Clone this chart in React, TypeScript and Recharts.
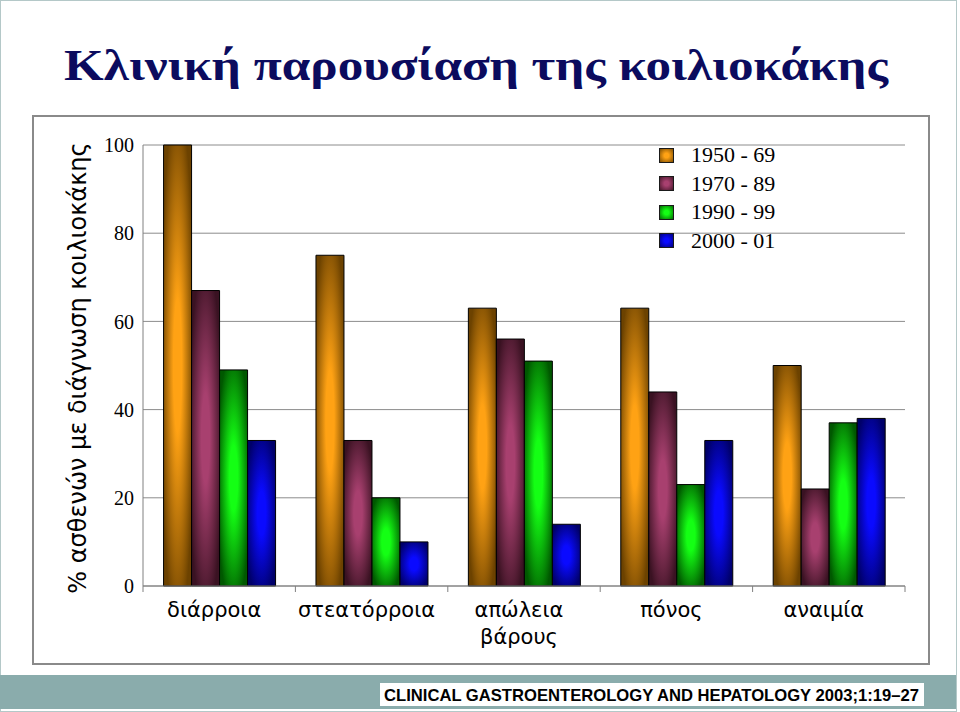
import React from 'react';
import { BarChart, Bar, XAxis, YAxis, CartesianGrid, Legend } from 'recharts';

const categories = ['διάρροια', 'στεατόρροια', 'απώλεια βάρους', 'πόνος', 'αναιμία'];
const period1950 = [100, 75, 63, 63, 50];
const period1970 = [67, 33, 56, 44, 22];
const period1990 = [49, 20, 51, 23, 37];
const period2000 = [33, 10, 14, 33, 38];
const seriesNames = ['1950 - 69', '1970 - 89', '1990 - 99', '2000 - 01'];
const yTicks = [0, 20, 40, 60, 80, 100];

const data = categories.map((name, i) => ({
  name,
  p1950: period1950[i],
  p1970: period1970[i],
  p1990: period1990[i],
  p2000: period2000[i],
}));

const SERIES = [
  { key: 'p1950', name: seriesNames[0], light: '#ffa214', dark: '#6c4200' },
  { key: 'p1970', name: seriesNames[1], light: '#a8406f', dark: '#3a1222' },
  { key: 'p1990', name: seriesNames[2], light: '#14ff14', dark: '#005800' },
  { key: 'p2000', name: seriesNames[3], light: '#0a0aff', dark: '#00006a' },
];

const serif = '"Liberation Serif", "DejaVu Serif", serif';
const sans = '"DejaVu Sans", Verdana, sans-serif';

const XTick = (props: any) => {
  const { x, y, payload, index, visibleTicksCount } = props;
  const half = payload.offset || 76;
  const lines = String(payload.value).split(' ');
  return (
    <g>
      <line x1={x - half} x2={x - half} y1={y} y2={y + 6} stroke="#808080" />
      {index === visibleTicksCount - 1 && (
        <line x1={x + half} x2={x + half} y1={y} y2={y + 6} stroke="#808080" />
      )}
      {lines.map((line, i) => (
        <text
          key={i}
          x={x - 5}
          y={y + 31 + i * 27}
          textAnchor="middle"
          fontFamily={sans}
          fontSize={21}
          fill="#000"
        >
          {line}
        </text>
      ))}
    </g>
  );
};

const renderLegend = (props: any) => {
  const { payload } = props;
  return (
    <div style={{ fontFamily: serif, fontSize: 22, color: '#000' }}>
      {payload.map((entry: any) => {
        const s = SERIES.find((d) => d.key === entry.dataKey) || SERIES[0];
        return (
          <div key={entry.value} style={{ display: 'flex', alignItems: 'center', height: 28.5 }}>
            <span
              style={{
                display: 'inline-block',
                width: 13,
                height: 13,
                border: '1.5px solid #1a1a1a',
                background: `radial-gradient(circle, ${s.light} 25%, ${s.dark} 110%)`,
                marginRight: 17,
              }}
            />
            <span>{entry.value}</span>
          </div>
        );
      })}
    </div>
  );
};

export default function App() {
  return (
    <div
      style={{
        position: 'absolute',
        left: 0,
        top: 0,
        width: 960,
        height: 712,
        background: '#fff',
        overflow: 'hidden',
      }}
    >
      <svg width={960} height={712} style={{ position: 'absolute', left: 0, top: 0 }}>
        <rect x={0.5} y={0.5} width={956} height={711} fill="none" stroke="#b4c8c8" />
        <text
          x={64}
          y={80}
          fontFamily={serif}
          fontWeight="bold"
          fontSize={44}
          fill="#0b0b5e"
          textLength={824}
          lengthAdjust="spacingAndGlyphs"
        >
          Κλινική παρουσίαση της κοιλιοκάκης
        </text>
        <rect x={33} y={116} width={896} height={548} fill="none" stroke="#8a8a8a" strokeWidth={2} />
        <rect x={0} y={675} width={956} height={34} fill="#8aacac" />
        <rect x={380} y={683} width={544} height={23} fill="#fff" />
        <text
          x={384}
          y={700.5}
          fontFamily='"Liberation Sans", Arial, sans-serif'
          fontWeight="bold"
          fontSize={17}
          fill="#000"
          textLength={535}
          lengthAdjust="spacingAndGlyphs"
        >
          CLINICAL GASTROENTEROLOGY AND HEPATOLOGY 2003;1:19–27
        </text>
      </svg>

      <div
        style={{
          position: 'absolute',
          left: 78,
          top: 368,
          transform: 'translate(-50%, -50%) rotate(-90deg)',
          whiteSpace: 'nowrap',
          fontFamily: sans,
          fontSize: 24,
          color: '#000',
        }}
      >
        % ασθενών με διάγνωση κοιλιοκάκης
      </div>

      <div style={{ position: 'absolute', left: 0, top: 0 }}>
        <BarChart
          width={960}
          height={712}
          data={data}
          margin={{ top: 145, right: 55, bottom: 66, left: 83 }}
          barCategoryGap="13.5%"
          barGap={0}
        >
          <defs>
            {SERIES.map((s) => (
              <radialGradient key={s.key} id={`grad-${s.key}`} cx="50%" cy="50%" r="60%">
                <stop offset="0%" stopColor={s.light} />
                <stop offset="25%" stopColor={s.light} />
                <stop offset="100%" stopColor={s.dark} />
              </radialGradient>
            ))}
          </defs>
          <CartesianGrid vertical={false} stroke="#8c8c8c" />
          <XAxis
            dataKey="name"
            height={60}
            tickSize={0}
            tickMargin={0}
            tickLine={false}
            axisLine={{ stroke: '#808080' }}
            tick={<XTick />}
            interval={0}
          />
          <YAxis
            width={60}
            domain={[0, 100]}
            ticks={yTicks}
            tickSize={0}
            tickMargin={9}
            tickLine={false}
            axisLine={{ stroke: '#808080' }}
            tick={{ fontFamily: serif, fontSize: 20, fill: '#000' }}
          />
          <Legend
            layout="vertical"
            align="center"
            verticalAlign="middle"
            content={renderLegend}
            wrapperStyle={{ position: 'absolute', left: 659, top: 141, width: 200 }}
          />
          {SERIES.map((s) => (
            <Bar
              key={s.key}
              dataKey={s.key}
              name={s.name}
              fill={`url(#grad-${s.key})`}
              stroke="#000"
              strokeWidth={1}
              isAnimationActive={false}
            />
          ))}
        </BarChart>
      </div>
    </div>
  );
}
